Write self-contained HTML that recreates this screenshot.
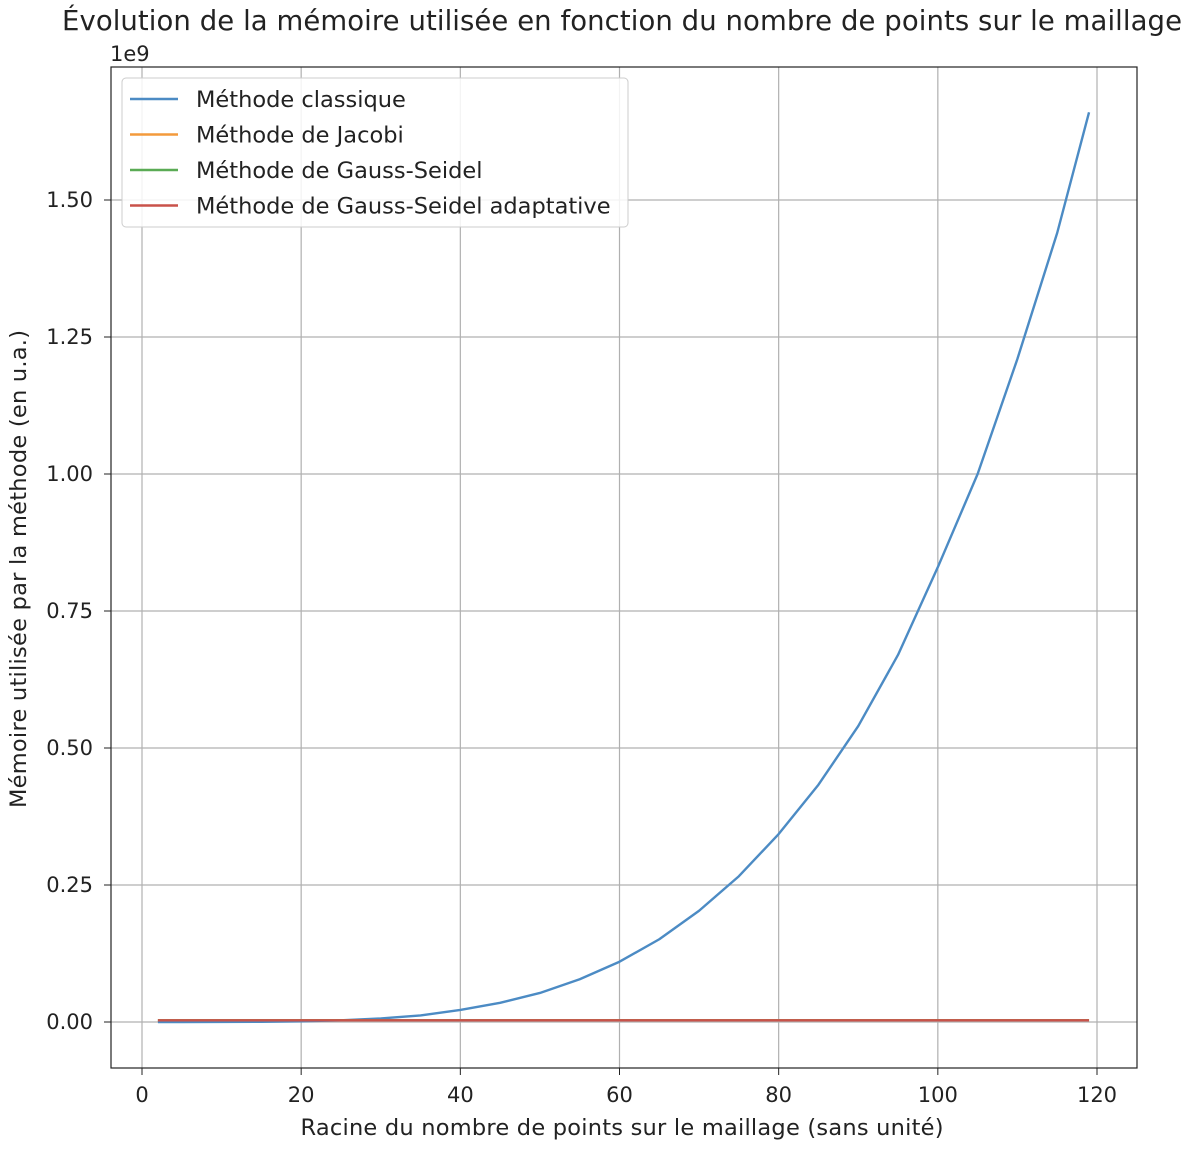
<!DOCTYPE html>
<html><head><meta charset="utf-8"><style>
body{margin:0;background:#fff;}
svg text{font-family:"DejaVu Sans","Liberation Sans",sans-serif;fill:#222;}
</style></head><body>
<svg width="1194" height="1146" id="svg">
<text x="622" y="30" font-size="27.5" text-anchor="middle" textLength="1120">Évolution de la mémoire utilisée en fonction du nombre de points sur le maillage</text>
<g id="grid"></g>
<g id="series"></g>
<rect x="111" y="67" width="1026" height="1001" fill="none" stroke="#222" stroke-width="1.2"/>
<g id="ticks"></g>
<text x="110" y="61" font-size="21">1e9</text>
<text x="622" y="1135" font-size="22.5" text-anchor="middle" textLength="643">Racine du nombre de points sur le maillage (sans unité)</text>
<text transform="translate(26,569) rotate(-90)" font-size="22.5" text-anchor="middle" textLength="478">Mémoire utilisée par la méthode (en u.a.)</text>
<g id="legend"></g>
</svg>
<script>
const xs=[2,5,10,15,20,25,30,35,40,45,50,55,60,65,70,75,80,85,90,95,100,105,110,115,119];
const classique=[0,0.00001,0.0001,0.0004,0.0013,0.0031,0.0065,0.012,0.022,0.035,0.053,0.078,0.11,0.151,0.203,0.266,0.343,0.433,0.54,0.67,0.83,1.00,1.21,1.44,1.66];
const jacobi=[0.003,0.003];
const gs=[0.003,0.003];
const gsa=[0.003,0.003];
const flatX=[2,119];
const xTicks=[0,20,40,60,80,100,120];
const yTicks=[0,0.25,0.5,0.75,1.0,1.25,1.5];
const names=["Méthode classique","Méthode de Jacobi","Méthode de Gauss-Seidel","Méthode de Gauss-Seidel adaptative"];
const colors=["#4c8bc4","#f39a3c","#5aab55","#c9524a"];
const X=v=>142+v*(1097-142)/120;
const Y=v=>1022-v*(1022-200)/1.5;
const NS="http://www.w3.org/2000/svg";
function mk(t,p,a){const e=document.createElementNS(NS,t);for(const k in a)e.setAttribute(k,a[k]);p.appendChild(e);return e;}
const grid=document.getElementById('grid'),ticks=document.getElementById('ticks');
xTicks.forEach(t=>{const x=X(t);
const g=mk('line',grid,{x1:x,x2:x,y1:67,y2:1068,stroke:'#b0b0b0','stroke-width':1.2});

mk('line',ticks,{x1:x,x2:x,y1:1068,y2:1075,stroke:'#222'});
const l=mk('text',ticks,{x:x,y:1102,'font-size':21,'text-anchor':'middle'});l.textContent=t;
});
yTicks.forEach(t=>{const y=Y(t);
const g=mk('line',grid,{x1:111,x2:1137,y1:y,y2:y,stroke:'#b0b0b0','stroke-width':1.2});

mk('line',ticks,{x1:104,x2:111,y1:y,y2:y,stroke:'#222'});
const l=mk('text',ticks,{x:93,y:y+7,'font-size':21,'text-anchor':'end'});l.textContent=t.toFixed(2);
});
const ser=document.getElementById('series');
function line(xa,ya,c,n){const p=mk('polyline',ser,{points:xa.map((x,i)=>X(x)+','+Y(ya[i])).join(' '),fill:'none',stroke:c,'stroke-width':2.4,'stroke-linejoin':'round'});
}
line(xs,classique,colors[0],'series-classique');
line(flatX,jacobi,colors[1],'series-jacobi');
line(flatX,gs,colors[2],'series-gauss-seidel');
line(flatX,gsa,colors[3],'series-gauss-seidel-adaptative');
const lg=document.getElementById('legend');
const box=mk('rect',lg,{x:122,y:78,width:506,height:149,rx:4,fill:'#fff','fill-opacity':0.85,stroke:'#ccc'});

names.forEach((n,i)=>{const y=99+i*35.5;
mk('line',lg,{x1:130,x2:178,y1:y,y2:y,stroke:colors[i],'stroke-width':2.6});
const t=mk('text',lg,{x:196,y:y+8,'font-size':22.5});t.textContent=n;
});
</script>
</body></html>
